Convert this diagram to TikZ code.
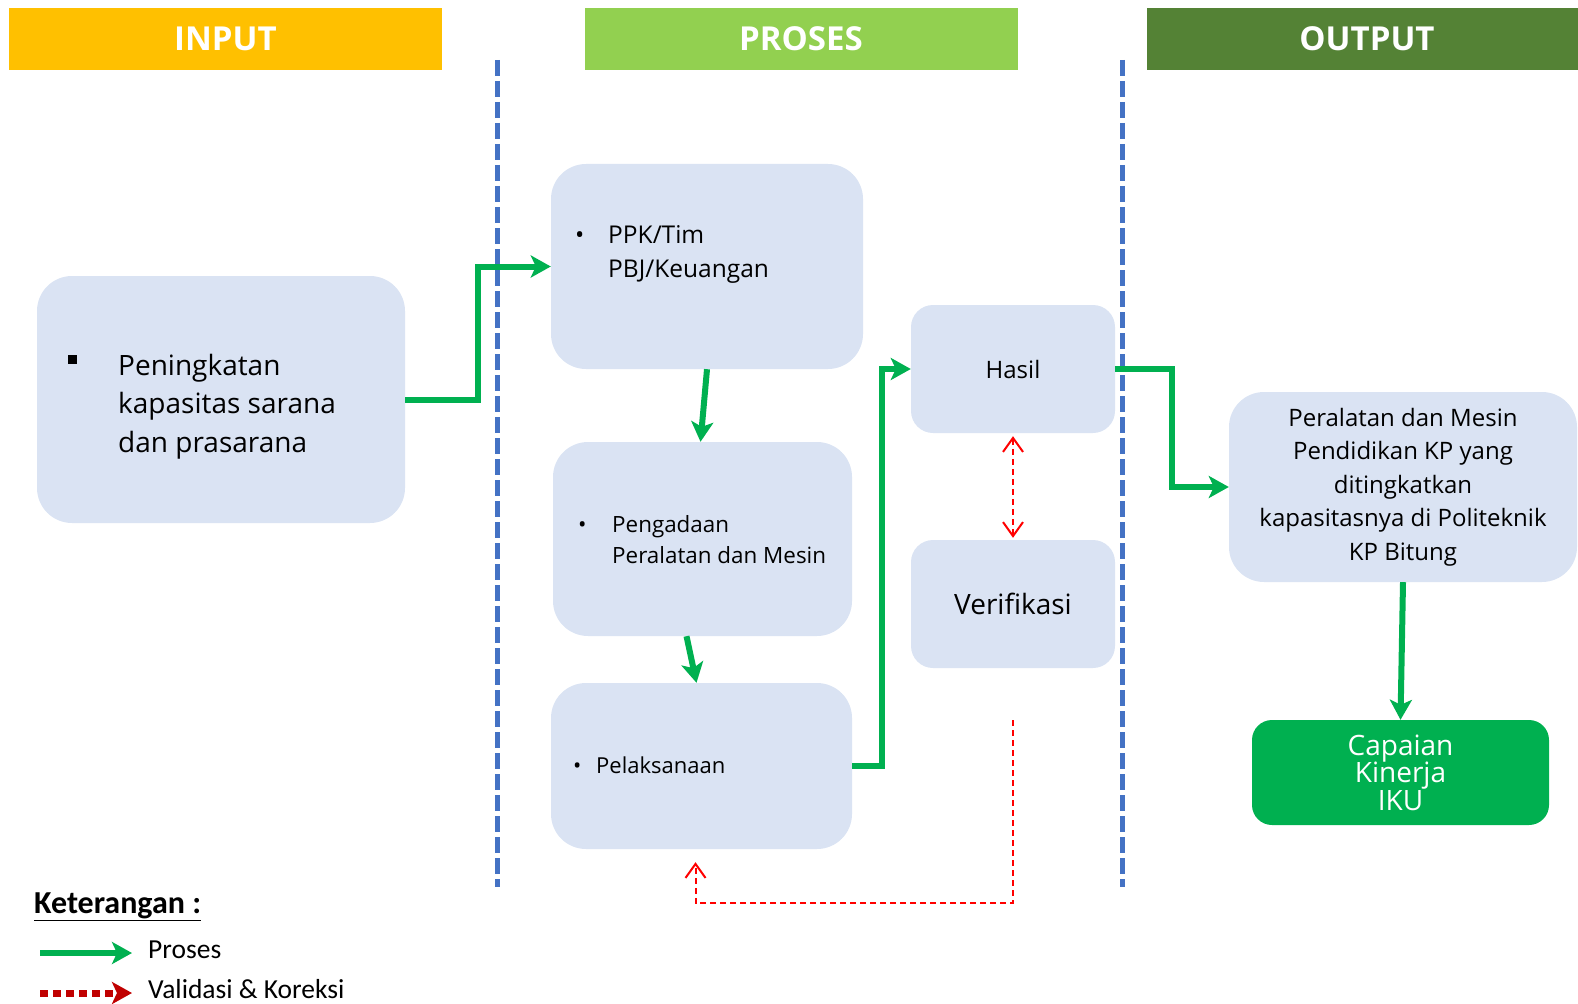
\documentclass[tikz,border=0pt]{standalone}
\usepackage{fontspec}
\setmainfont{Open Sans}
\newfontfamily\calfont{Carlito}
\usetikzlibrary{arrows.meta,calc}
\definecolor{boxfill}{HTML}{DAE3F3}
\definecolor{pgreen}{HTML}{00B050}
\definecolor{hyellow}{HTML}{FFC000}
\definecolor{hlgreen}{HTML}{92D050}
\definecolor{hdgreen}{HTML}{548235}
\definecolor{sepblue}{HTML}{4472C4}
\definecolor{darkred}{HTML}{C00000}
\tikzset{
  hdr/.style={inner sep=0pt, text=white, font=\fontsize{33}{38}\selectfont\bfseries, minimum width=433pt, minimum height=62pt},
  bigbox/.style={fill=boxfill, rounded corners=35pt, inner sep=0pt},
  smallbox/.style={fill=boxfill, rounded corners=22pt, inner sep=0pt},
  txt/.style={inner sep=0pt, anchor=base west, align=left},
  garrow/.style={draw=pgreen, line width=6pt, -{Stealth[length=20pt,width=22pt,inset=5pt]}},
  rarrow/.style={draw=red, line width=2pt, dash pattern=on 6pt off 4pt},
  rtip/.tip={Straight Barb[length=14pt,width=20pt,line width=2pt]},
  sepline/.style={draw=sepblue, line width=5pt, dash pattern=on 16pt off 5pt},
}
\begin{document}
\begin{tikzpicture}[x=1pt,y=-1pt]
\useasboundingbox (0,0) rectangle (1578,1003);

% headers
\node[hdr, fill=hyellow] (hin) at (225.5,39) {INPUT};
\node[hdr, fill=hlgreen] (hpr) at (801,39) {PROSES};
\node[hdr, fill=hdgreen, minimum width=440pt] (hout) at (1367,39) {OUTPUT};

% separators
\draw[sepline] (497,60) -- (497,887);
\draw[sepline] (1122,60) -- (1122,887);

% input box
\node[bigbox, minimum width=368pt, minimum height=247pt] (inp) at (221,399.5) {};
\node[fill=black, minimum size=9pt, inner sep=0pt] (inpb) at (72.5,359.5) {};
\node[txt, font=\fontsize{28}{38.5}\selectfont] (inpt) at (118,452) {Peningkatan\\kapasitas sarana\\dan prasarana};

% process boxes
\node[bigbox, minimum width=312pt, minimum height=205pt] (ppk) at (707,266.5) {};
\node[txt, font=\fontsize{24.5}{34}\selectfont] (ppkb) at (575,243) {•};
\node[txt, font=\fontsize{24.5}{34}\selectfont] (ppkt) at (608,277) {PPK/Tim\\PBJ/Keuangan};

\node[bigbox, minimum width=299pt, minimum height=194pt] (pen) at (702.5,539) {};
\node[txt, font=\fontsize{22.4}{31}\selectfont] (penb) at (578,532) {•};
\node[txt, font=\fontsize{22.4}{31}\selectfont] (pent) at (612,563) {Pengadaan\\Peralatan dan Mesin};

\node[bigbox, minimum width=301pt, minimum height=166pt] (pel) at (701.5,766) {};
\node[txt, font=\fontsize{22}{31}\selectfont] (pelb) at (573,773) {•};
\node[txt, font=\fontsize{22}{31}\selectfont] (pelt) at (596,773) {Pelaksanaan};

\node[smallbox, minimum width=204pt, minimum height=128pt, font=\fontsize{24}{28}\selectfont] (hasil) at (1013,369) {Hasil};
\node[smallbox, minimum width=204pt, minimum height=128pt, font=\fontsize{28}{34}\selectfont] (ver) at (1013,604) {Verifikasi};

% output
\node[bigbox, minimum width=348pt, minimum height=190pt, align=center, font=\fontsize{24}{33.5}\selectfont] (out) at (1403,487) {Peralatan dan Mesin\\Pendidikan KP yang\\ditingkatkan\\kapasitasnya di Politeknik\\KP Bitung};
\node[fill=pgreen, rounded corners=20pt, inner sep=0pt, minimum width=297pt, minimum height=105pt, text=white, align=center, font=\fontsize{28}{27.5}\selectfont] (cap) at (1400.5,772.5) {Capaian\\Kinerja\\IKU};

% green process arrows
\draw[garrow] (inp.east) -- ++(73,0) |- (ppk.west);
\draw[garrow] (ppk.south) -- ([xshift=-2pt]pen.north);
\draw[garrow] ([xshift=-16pt]pen.south) -- ([xshift=-5pt]pel.north);
\draw[garrow] (pel.east) -- ++(30,0) |- (hasil.west);
\draw[garrow] (hasil.east) -- ++(57,0) |- (out.west);
\draw[garrow] (out.south) -- (cap.north);

% red validation arrows
\draw[rarrow, rtip-rtip, shorten <=3pt, shorten >=2pt] (hasil.south) -- (ver.north);
\coordinate (vs) at (1013,720);
\draw[rarrow, -rtip, shorten >=13pt] (vs) |- ($(pel.south)+(-6,54)$) -- ([xshift=-6pt]pel.south);

% legend
\node[txt, font=\calfont\fontsize{32}{36}\selectfont\bfseries] (ket) at (34,913) {\underline{Keterangan :}};
\coordinate (l1a) at (40,953);
\coordinate (l1b) at (132,953);
\draw[garrow] (l1a) -- (l1b);
\node[txt, font=\calfont\fontsize{27.5}{32}\selectfont] (l1t) at (148,958) {Proses};
\coordinate (l2a) at (40,993);
\coordinate (l2b) at (132,993);
\draw[draw=darkred, line width=7pt, dash pattern=on 8pt off 5pt, -{Stealth[length=20pt,width=22pt,inset=5pt]}] (l2a) -- (l2b);
\node[txt, font=\calfont\fontsize{27.5}{32}\selectfont] (l2t) at (148,998) {Validasi \& Koreksi};
\end{tikzpicture}
\end{document}
